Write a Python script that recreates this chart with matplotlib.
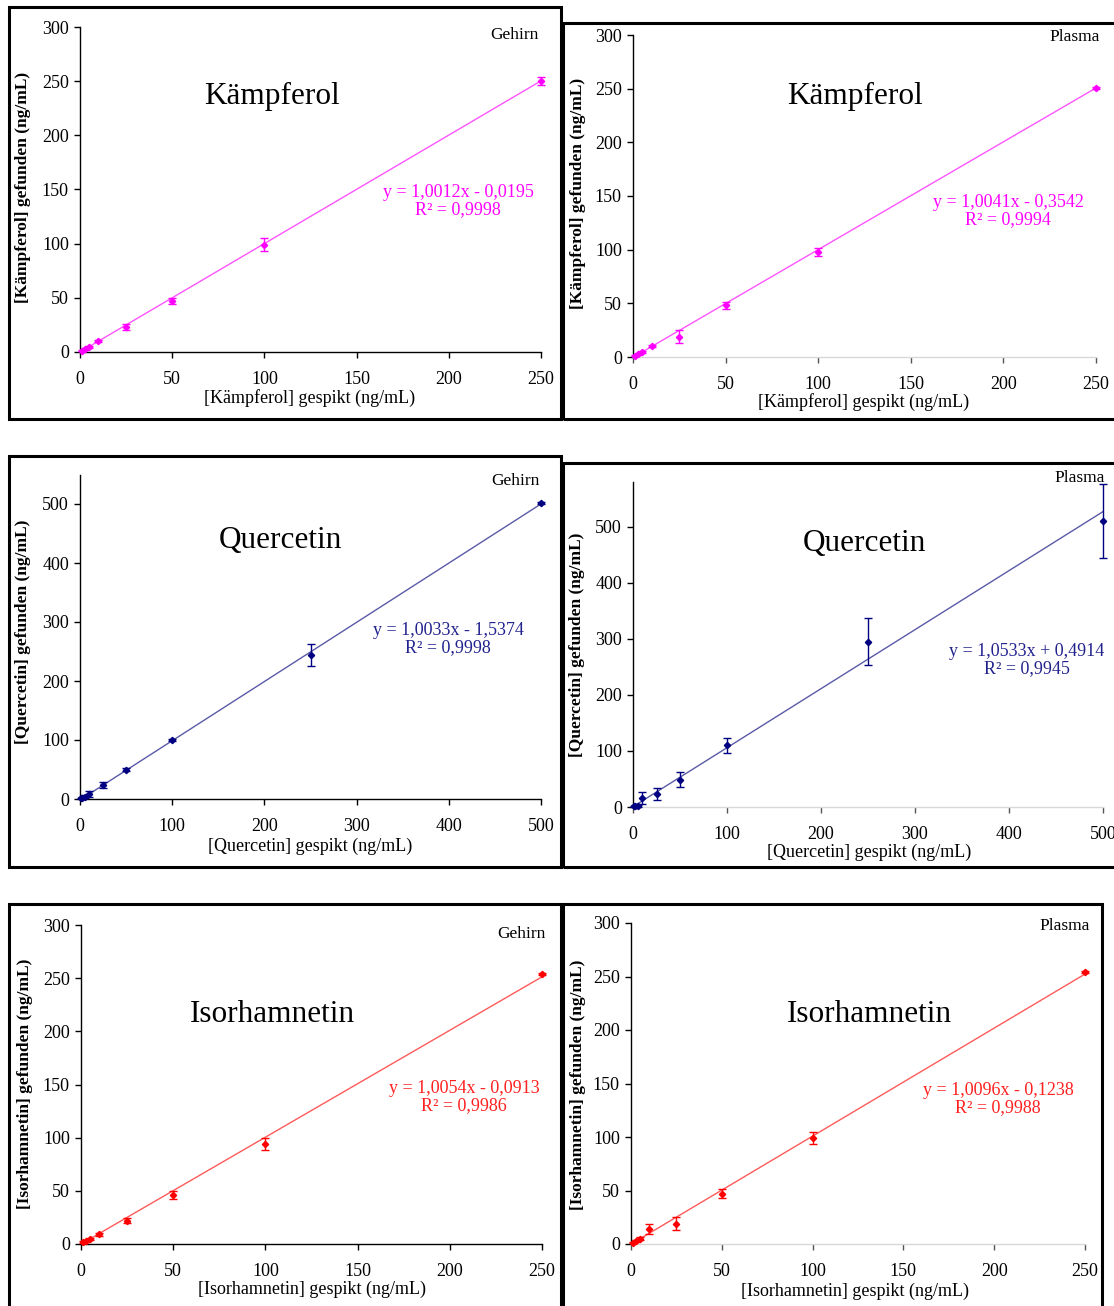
import matplotlib
matplotlib.use("Agg")
import matplotlib.pyplot as plt
from matplotlib.patches import Rectangle

plt.rcParams['font.family'] = ['Liberation Serif', 'DejaVu Serif']

W, H = 1114, 1306

# spiked concentrations (ng/mL)
x_kf = [1, 2.5, 5, 10, 25, 50, 100, 250]
x_qu = [1, 2.5, 5, 10, 25, 50, 100, 250, 500]
x_ih = [1, 2.5, 5, 10, 25, 50, 100, 250]

# found concentrations (mean) and standard deviation
kf_gehirn = [1, 3, 5, 10, 23, 47, 99, 250]
kf_gehirn_sd = [0.5, 1, 1, 1, 2.5, 3, 6, 4]
kf_plasma = [1, 2.5, 5, 10, 19, 48, 98, 251]
kf_plasma_sd = [0.5, 0.5, 1, 1, 6, 3, 4, 1]

qu_gehirn = [1, 2, 4, 9, 24, 50, 100, 244, 502]
qu_gehirn_sd = [0.5, 1, 2, 5, 5, 2, 2, 19, 2]
qu_plasma = [1, 2, 2, 16, 23, 49, 110, 295, 510]
qu_plasma_sd = [0.5, 1, 2, 10, 11, 13, 14, 42, 66]

ih_gehirn = [2, 3, 5, 9, 22, 46, 94, 254]
ih_gehirn_sd = [1, 1, 1, 1.5, 2, 4, 6, 1]
ih_plasma = [1, 3, 5, 14, 19, 47, 99, 254]
ih_plasma_sd = [0.5, 1, 1.5, 5, 6, 4, 6, 1]

# regression results (slope, intercept, R²)
fits = {
    'kf_gehirn': (1.0012, -0.0195, 0.9998),
    'kf_plasma': (1.0041, -0.3542, 0.9994),
    'qu_gehirn': (1.0033, -1.5374, 0.9998),
    'qu_plasma': (1.0533, 0.4914, 0.9945),
    'ih_gehirn': (1.0054, -0.0913, 0.9986),
    'ih_plasma': (1.0096, -0.1238, 0.9988),
}

fig = plt.figure(figsize=(W / 100, H / 100), dpi=100)


def fx(px):
    return px / W


def fy(py):
    return 1 - py / H


def fmt(v):
    return ('%.4f' % abs(v)).replace('.', ',')


# frames around each panel (pixel box: x0, y0, x1, y1)
frames = [(9, 7, 561, 419), (563, 23, 1120, 419),
          (9, 456, 561, 867), (563, 463, 1120, 867),
          (9, 904, 561, 1312), (563, 904, 1102, 1312)]
for x0, y0, x1, y1 in frames:
    fig.patches.append(Rectangle((fx(x0), fy(y1)), fx(x1 - x0), (y1 - y0) / H,
                                 transform=fig.transFigure, fill=False,
                                 edgecolor='black', linewidth=2.2, zorder=0))

panels = [
    dict(name='Kämpferol', matrix='Gehirn', x=x_kf, y=kf_gehirn, sd=kf_gehirn_sd,
         fit='kf_gehirn', xlim=250, ylim=300, xstep=50, ystep=50,
         box=(80, 541, 352, 27), col='#ff00ff', lcol='#ff55ff', tcol='#ff00ff',
         title=(272, 96), sub=(514, 35), eq=(458, 201),
         xl=(310, 398), yl=(23, 187), plasma=False),
    dict(name='Kämpferol', matrix='Plasma', x=x_kf, y=kf_plasma, sd=kf_plasma_sd,
         fit='kf_plasma', xlim=250, ylim=300, xstep=50, ystep=50,
         box=(633, 1096, 357, 35), col='#ff00ff', lcol='#ff55ff', tcol='#ff00ff',
         title=(855, 96), sub=(1075, 37), eq=(1008, 211),
         xl=(864, 402), yl=(578, 193), plasma=True),
    dict(name='Quercetin', matrix='Gehirn', x=x_qu, y=qu_gehirn, sd=qu_gehirn_sd,
         fit='qu_gehirn', xlim=500, ylim=550, xstep=100, ystep=100,
         box=(80, 541, 799, 474.5), col='#000080', lcol='#5a5aa8', tcol='#22228f',
         title=(280, 540), sub=(515, 481), eq=(448, 639),
         xl=(310, 846), yl=(23, 632), plasma=False),
    dict(name='Quercetin', matrix='Plasma', x=x_qu, y=qu_plasma, sd=qu_plasma_sd,
         fit='qu_plasma', xlim=500, ylim=580, xstep=100, ystep=100,
         box=(633, 1103, 807, 482), col='#000080', lcol='#5a5aa8', tcol='#22228f',
         title=(864, 543), sub=(1080, 478), eq=(1027, 660),
         xl=(869, 852), yl=(577, 645), plasma=True),
    dict(name='Isorhamnetin', matrix='Gehirn', x=x_ih, y=ih_gehirn, sd=ih_gehirn_sd,
         fit='ih_gehirn', xlim=250, ylim=300, xstep=50, ystep=50,
         box=(81, 542, 1244, 925), col='#ff0000', lcol='#ff5a5a', tcol='#ff2020',
         title=(272, 1014), sub=(521, 934), eq=(464, 1097),
         xl=(312, 1289), yl=(25, 1084), plasma=False),
    dict(name='Isorhamnetin', matrix='Plasma', x=x_ih, y=ih_plasma, sd=ih_plasma_sd,
         fit='ih_plasma', xlim=250, ylim=300, xstep=50, ystep=50,
         box=(631, 1085, 1244, 923), col='#ff0000', lcol='#ff5a5a', tcol='#ff2020',
         title=(869, 1014), sub=(1065, 926), eq=(998, 1099),
         xl=(855, 1291), yl=(578, 1085), plasma=True),
]

for p in panels:
    l, r, y0, yt = p['box']
    ax = fig.add_axes([fx(l), fy(y0), (r - l) / W, (y0 - yt) / H])
    ax.patch.set_alpha(0)

    slope, icpt, r2 = fits[p['fit']]
    xs = [0, p['x'][-1]]
    ax.plot(xs, [slope * v + icpt for v in xs], color=p['lcol'], lw=1.0, zorder=2)
    ax.errorbar(p['x'], p['y'], yerr=p['sd'], fmt='D', ms=3.2, color=p['col'],
                ecolor=p['col'], elinewidth=1.0, capsize=3, capthick=1.0,
                clip_on=False, zorder=3)

    ax.set_xlim(0, p['xlim'])
    ax.set_ylim(0, p['ylim'])
    ax.set_xticks(range(0, p['xlim'] + 1, p['xstep']))
    ax.set_yticks(range(0, p['ylim'] + 1, p['ystep']))
    for s in ['top', 'right']:
        ax.spines[s].set_visible(False)
    ax.spines['left'].set_linewidth(1.0)
    if p['plasma']:
        ax.spines['bottom'].set_color('#d8d8d8')
        ax.tick_params(axis='x', colors='#555555', labelcolor='black')
    ax.spines['bottom'].set_linewidth(1.0)
    ax.tick_params(axis='y', direction='out', length=4, width=1, pad=4, labelsize=13)
    ax.tick_params(axis='x', direction='out', length=4, width=1, pad=9.5, labelsize=13)

    comp = p['name']
    ax.set_xlabel('[%s] gespikt (ng/mL)' % comp, fontsize=13, va='center')
    ax.xaxis.set_label_coords(fx(p['xl'][0]), fy(p['xl'][1]), transform=fig.transFigure)
    ax.set_ylabel('[%s] gefunden (ng/mL)' % comp, fontsize=12.5, fontweight='bold',
                  va='center')
    ax.yaxis.set_label_coords(fx(p['yl'][0]), fy(p['yl'][1]), transform=fig.transFigure)

    fig.text(fx(p['title'][0]), fy(p['title'][1]), comp, fontsize=22.5,
             ha='center', va='center')
    fig.text(fx(p['sub'][0]), fy(p['sub'][1]), p['matrix'], fontsize=12.5,
             ha='center', va='center')
    sign = '-' if icpt < 0 else '+'
    eq = 'y = %sx %s %s\nR² = %s' % (fmt(slope), sign, fmt(icpt), fmt(r2))
    fig.text(fx(p['eq'][0]), fy(p['eq'][1]), eq, fontsize=13, color=p['tcol'],
             ha='center', va='center', multialignment='center', linespacing=1.05)

fig.savefig('out.png', dpi=100)
